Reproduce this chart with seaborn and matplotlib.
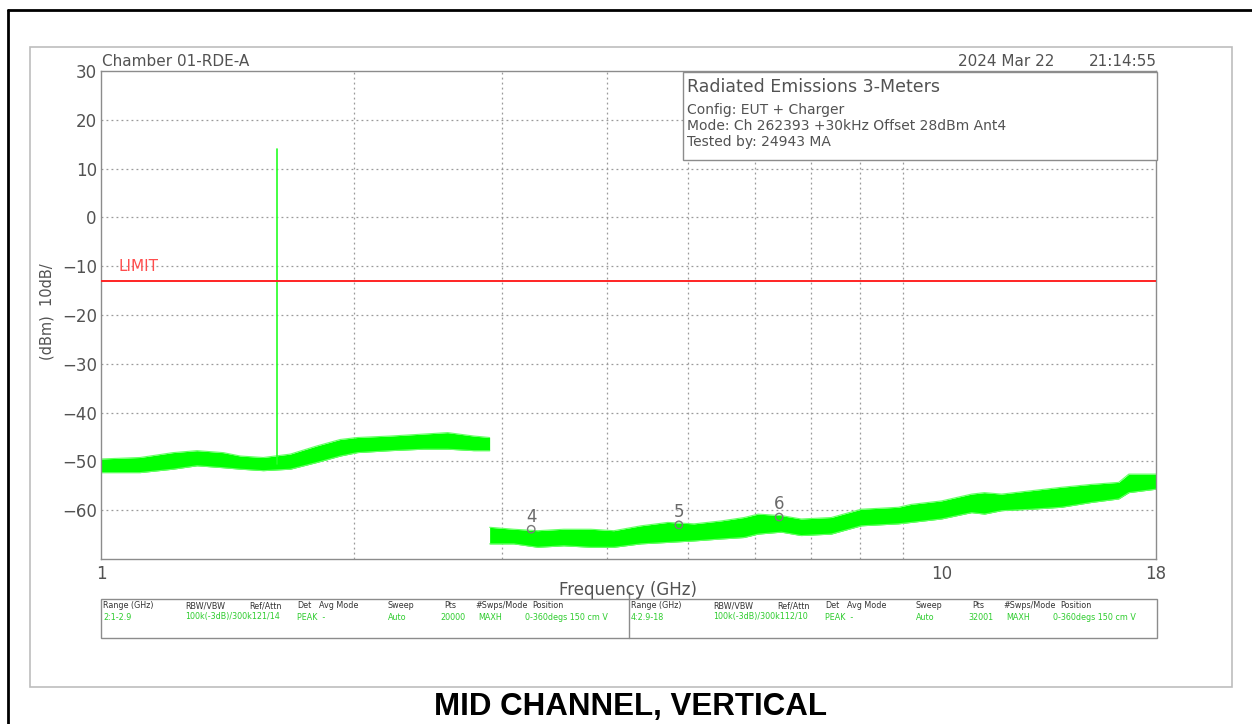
import matplotlib
matplotlib.use("Agg")
import matplotlib.pyplot as plt
import seaborn as sns
import pandas as pd
from matplotlib.patches import Rectangle
from matplotlib.lines import Line2D

# ---- data ----
# segment 1: 1 - 2.9 GHz, envelope of the max-hold trace
seg1_freq = [1.0, 1.113, 1.218, 1.301, 1.398, 1.465, 1.560, 1.680, 1.809,
             1.927, 2.019, 2.211, 2.420, 2.585, 2.776, 2.9]
seg1_top = [-49.5, -49.2, -48.2, -47.8, -48.2, -48.9, -49.2, -48.5, -46.8,
            -45.5, -45.1, -44.8, -44.4, -44.1, -44.8, -45.1]
seg1_bot = [-52.3, -52.3, -51.6, -50.9, -51.3, -51.6, -51.9, -51.6, -50.2,
            -48.9, -48.2, -47.8, -47.5, -47.5, -47.8, -47.8]

# segment 2: 2.9 - 18 GHz
seg2_freq = [2.9, 3.098, 3.309, 3.553, 3.826, 4.076, 4.389, 4.727, 5.077,
             5.467, 5.824, 6.052, 6.448, 6.810, 7.394, 8.028, 8.887, 9.210,
             10.0, 10.86, 11.25, 11.79, 12.80, 13.90, 15.10, 16.25, 16.71, 18.0]
seg2_top = [-63.5, -63.9, -64.2, -63.9, -63.9, -64.2, -63.2, -62.5, -62.8,
            -62.2, -61.5, -60.8, -61.1, -61.8, -61.5, -59.8, -59.4, -58.8,
            -58.1, -56.7, -56.4, -56.7, -56.0, -55.3, -54.7, -54.3, -52.6, -52.6]
seg2_bot = [-66.9, -66.9, -67.6, -67.3, -67.6, -67.6, -66.9, -66.6, -66.3,
            -65.9, -65.6, -64.9, -64.5, -65.2, -64.9, -63.2, -62.8, -62.5,
            -61.8, -60.5, -60.8, -60.1, -59.8, -59.4, -58.4, -57.7, -56.4, -55.7]

# carrier spike
spike_freq = [1.621, 1.621]
spike_level = [-50.5, 14.0]

# limit line
limit_freq = [1.0, 18.0]
limit_level = [-13.0, -13.0]

# markers
marker_ids = ["4", "5", "6"]
marker_freq = [3.25, 4.87, 6.41]
marker_level = [-63.9, -63.0, -61.4]

y_ticks = [30, 20, 10, 0, -10, -20, -30, -40, -50, -60]
x_ticks = [1, 10, 18]
x_grid = [2, 3, 4, 5, 6, 7, 8, 9]

table_headers = ["Range (GHz)", "RBW/VBW", "Ref/Attn", "Det", "Avg Mode",
                 "Sweep", "Pts", "#Swps/Mode", "Position"]
table_left = ["2:1-2.9", "100k(-3dB)/300k121/14", "PEAK  -", "Auto",
              "20000", "MAXH", "0-360degs 150 cm V"]
table_right = ["4:2.9-18", "100k(-3dB)/300k112/10", "PEAK  -", "Auto",
               "32001", "MAXH", "0-360degs 150 cm V"]

# ---- figure ----
W, H = 1252, 724


def fx(x):
    return x / W


def fy(y):
    return 1 - y / H


sns.set_style("white")
plt.rcParams["font.family"] = ["DejaVu Sans"]
plt.rcParams["axes.unicode_minus"] = True

GREEN = "#00ff00"
TXT = "#525252"
GRID = "#9a9a9a"

fig = plt.figure(figsize=(W / 100, H / 100), dpi=100)

# outer page border + screenshot frame
fig.add_artist(Line2D([fx(8), fx(1252)], [fy(10), fy(10)], color="black", lw=2))
fig.add_artist(Line2D([fx(8), fx(8)], [fy(10), fy(724)], color="black", lw=2))
fig.add_artist(Rectangle((fx(30), fy(687)), fx(1232) - fx(30), fy(47) - fy(687),
                         fill=False, edgecolor="#bdbdbd", lw=1.2))

ax = fig.add_axes([fx(101), fy(559), fx(1156) - fx(101), fy(71) - fy(559)])
ax.set_xscale("log")

# grid
for g in x_grid:
    ax.axvline(g, color=GRID, lw=0.9, ls=(0, (1.5, 2.5)), zorder=0)
for t in y_ticks[1:]:
    ax.axhline(t, color=GRID, lw=0.9, ls=(0, (1.5, 2.5)), zorder=0)

# trace envelopes
df1 = pd.DataFrame({"freq": seg1_freq, "top": seg1_top, "bot": seg1_bot})
df2 = pd.DataFrame({"freq": seg2_freq, "top": seg2_top, "bot": seg2_bot})
for df in (df1, df2):
    ax.fill_between(df["freq"], df["bot"], df["top"], color=GREEN, lw=0, zorder=2)
    sns.lineplot(data=df, x="freq", y="top", ax=ax, color="#66ff66", lw=0.8, zorder=2)
    sns.lineplot(data=df, x="freq", y="bot", ax=ax, color="#66ff66", lw=0.8, zorder=2)

sns.lineplot(x=spike_freq, y=spike_level, ax=ax, color="#22ff22", lw=1.2,
             sort=False, estimator=None, zorder=3)
sns.lineplot(x=limit_freq, y=limit_level, ax=ax, color="#ff2424", lw=1.4, zorder=4)
ax.text(1.05, -10, "LIMIT", color="#ff4d4d", fontsize=11, va="center", ha="left")

# markers
sns.scatterplot(x=marker_freq, y=marker_level, ax=ax, marker="o", s=28,
                facecolor="none", edgecolor="#7a7a7a", linewidth=1.0, zorder=5)
for mid, f, lv in zip(marker_ids, marker_freq, marker_level):
    ax.text(f, lv + 2.6, mid, color="#6a6a6a", fontsize=12, ha="center", va="center")

ax.set_xlim(1, 18)
ax.set_ylim(-70, 30)
ax.set_xticks(x_ticks)
ax.set_xticklabels([str(v) for v in x_ticks])
ax.minorticks_off()
ax.set_yticks(y_ticks)
ax.set_yticklabels([str(v).replace("-", "\u2212") for v in y_ticks])
ax.tick_params(axis="both", length=0, labelsize=12, labelcolor=TXT)
ax.tick_params(axis="x", pad=4)
ax.tick_params(axis="y", pad=3)
ax.set_xlabel("")
ax.set_ylabel("")
for sp in ax.spines.values():
    sp.set_color("#8c8c8c")
    sp.set_linewidth(1.0)

# header texts
fig.text(fx(102), fy(61), "Chamber 01-RDE-A", fontsize=11, color=TXT, va="center")
fig.text(fx(1054), fy(61), "2024 Mar 22", fontsize=11, color=TXT, va="center", ha="right")
fig.text(fx(1157), fy(61), "21:14:55", fontsize=11, color=TXT, va="center", ha="right")

# info box
fig.add_artist(Rectangle((fx(683), fy(160)), fx(1157) - fx(683), fy(72) - fy(160),
                         facecolor="white", edgecolor="#8c8c8c", lw=1.0, zorder=10))
fig.text(fx(687), fy(87), "Radiated Emissions 3-Meters", fontsize=12.5, color=TXT,
         va="center", zorder=11)
info_lines = ["Config: EUT + Charger",
              "Mode: Ch 262393 +30kHz Offset 28dBm Ant4",
              "Tested by: 24943 MA"]
for i, line in enumerate(info_lines):
    fig.text(fx(687), fy(110 + 16 * i), line, fontsize=10, color=TXT, va="center", zorder=11)

# axis labels
fig.text(fx(47), fy(312), "(dBm)  10dB/", rotation=90, fontsize=10.5, color=TXT,
         ha="center", va="center")
fig.text(fx(628), fy(590), "Frequency (GHz)", fontsize=12, color=TXT,
         ha="center", va="center")

# settings table
fig.add_artist(Rectangle((fx(101), fy(638)), fx(1157) - fx(101), fy(599) - fy(638),
                         fill=False, edgecolor="#8c8c8c", lw=1.0))
fig.add_artist(Line2D([fx(629), fx(629)], [fy(638), fy(592)], color="#8c8c8c", lw=1.0))
head_dx = [0, 82, 146, 194, 216, 285, 341, 372, 429]
val_dx = [0, 82, 194, 285, 337, 375, 422]
for base, row in ((103, table_left), (631, table_right)):
    for dx, h in zip(head_dx, table_headers):
        fig.text(fx(base + dx), fy(606), h, fontsize=5.8, color="#333333", va="center")
    for dx, v in zip(val_dx, row):
        fig.text(fx(base + dx), fy(617), v, fontsize=5.8, color="#2ecc2e", va="center")

# caption
fig.text(fx(630), fy(707), "MID CHANNEL, VERTICAL", fontsize=22.5, fontweight="bold",
         family=["Liberation Sans", "DejaVu Sans"], ha="center", va="center", color="black")

fig.savefig("out.png", dpi=100)
